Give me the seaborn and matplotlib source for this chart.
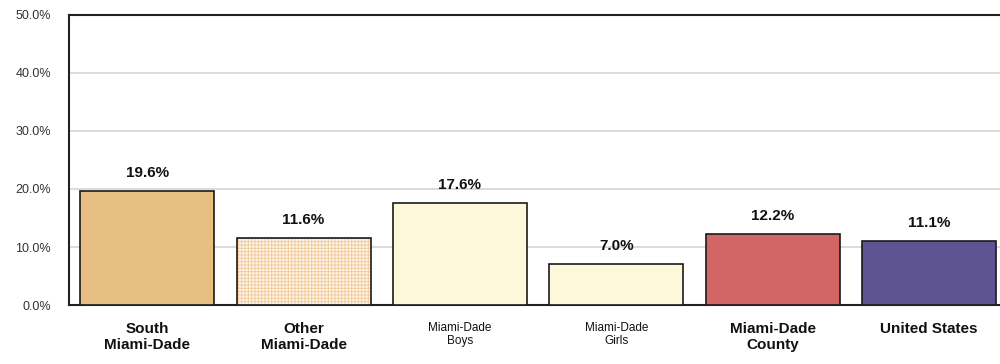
import matplotlib
matplotlib.use("Agg")
import matplotlib.pyplot as plt
import seaborn as sns
import pandas as pd

# Data
categories = ["South\nMiami-Dade", "Other\nMiami-Dade", "Miami-Dade\nBoys",
              "Miami-Dade\nGirls", "Miami-Dade\nCounty", "United States"]
values = [19.6, 11.6, 17.6, 7.0, 12.2, 11.1]
bar_colors = ["#E8BF83", "#FDEEDC", "#FEF8DA", "#FEF8DA", "#D26666", "#5E5494"]
small_labels = {"Miami-Dade\nBoys", "Miami-Dade\nGirls"}
y_ticks = [0, 10, 20, 30, 40, 50]

sns.set_theme(style="white")
plt.rcParams["font.family"] = ["Liberation Sans", "DejaVu Sans"]
plt.rcParams["hatch.linewidth"] = 0.6

df = pd.DataFrame({"group": categories, "pct": values})

fig = plt.figure(figsize=(10, 3.64), dpi=100)
ax = fig.add_axes([0.069, 0.162, 0.931, 0.797])

sns.barplot(data=df, x="group", y="pct", hue="group", palette=bar_colors,
            legend=False, width=0.857, edgecolor="#1a1a1a", linewidth=1.2,
            saturation=1, ax=ax, zorder=3)

# Checkered fill for the second bar
patch = ax.patches[1]
patch.set_facecolor("#FDF3E6")
patch.set_hatch("+++++")
patch._hatch_color = matplotlib.colors.to_rgba("#F2CB98")

for container in ax.containers:
    ax.bar_label(container, labels=[f"{v:.1f}%" for v in container.datavalues],
                 padding=8, fontsize=11, fontweight="bold", color="#111111")

ax.set_ylim(0, 50)
ax.set_yticks(y_ticks)
ax.set_yticklabels([f"{t:.1f}%" for t in y_ticks], fontsize=9, color="#333333")
ax.tick_params(axis="y", length=0, pad=13)
ax.tick_params(axis="x", length=0, pad=12)
ax.yaxis.grid(True, color="#d4d4d4", linewidth=1.2, zorder=0)
ax.set_axisbelow(True)
ax.set_xlim(-0.5, 5.454)

for lbl in ax.get_xticklabels():
    if lbl.get_text() in small_labels:
        lbl.set_fontsize(8.5)
        lbl.set_fontweight("normal")
    else:
        lbl.set_fontsize(11)
        lbl.set_fontweight("bold")
    lbl.set_color("#111111")

ax.set_xlabel("")
ax.set_ylabel("")
for side in ["left", "top", "bottom"]:
    ax.spines[side].set_color("#222222")
    ax.spines[side].set_linewidth(1.5)
ax.spines["right"].set_visible(False)

fig.savefig("out.png", dpi=100)
